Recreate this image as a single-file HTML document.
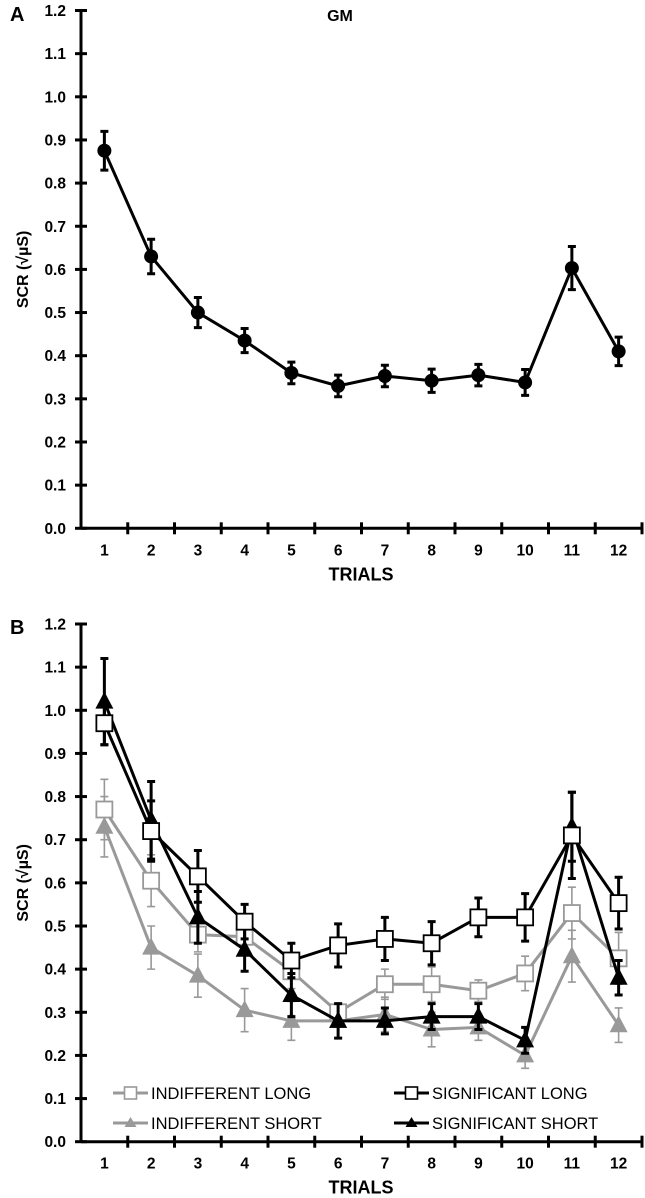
<!DOCTYPE html>
<html><head><meta charset="utf-8"><style>
html,body{margin:0;padding:0;background:#fff;}
svg{display:block;font-family:"Liberation Sans",Arial,sans-serif;}
</style></head><body>
<svg id="fig" width="645" height="1198" viewBox="0 0 645 1198" xmlns="http://www.w3.org/2000/svg"></svg>
<script>
const categories=[1,2,3,4,5,6,7,8,9,10,11,12];
const yTicks=[0,0.1,0.2,0.3,0.4,0.5,0.6,0.7,0.8,0.9,1.0,1.1,1.2];
const gmValues=[0.875,0.63,0.50,0.435,0.36,0.33,0.353,0.342,0.355,0.338,0.603,0.41];
const gmErrors=[0.045,0.04,0.035,0.028,0.025,0.025,0.025,0.027,0.025,0.03,0.05,0.033];
const sigLongValues=[0.97,0.72,0.615,0.51,0.42,0.455,0.47,0.46,0.52,0.52,0.71,0.553];
const sigLongErrors=[0.05,0.07,0.06,0.04,0.04,0.05,0.05,0.05,0.045,0.055,0.10,0.06];
const indLongValues=[0.77,0.605,0.48,0.475,0.395,0.30,0.365,0.365,0.35,0.39,0.53,0.425];
const indLongErrors=[0.07,0.06,0.04,0.04,0.04,0.02,0.035,0.04,0.025,0.04,0.06,0.06];
const sigShortValues=[1.02,0.745,0.52,0.445,0.34,0.28,0.28,0.29,0.29,0.235,0.73,0.38];
const sigShortErrors=[0.10,0.09,0.06,0.05,0.05,0.04,0.03,0.03,0.03,0.03,0.08,0.04];
const indShortValues=[0.73,0.45,0.385,0.305,0.28,0.28,0.295,0.26,0.265,0.20,0.43,0.27];
const indShortErrors=[0.07,0.05,0.05,0.05,0.045,0.04,0.04,0.04,0.03,0.03,0.06,0.04];

const NS="http://www.w3.org/2000/svg";
const svg=document.getElementById('fig');
function el(tag,attrs,parent){const e=document.createElementNS(NS,tag);for(const k in attrs)e.setAttribute(k,attrs[k]);(parent||svg).appendChild(e);return e;}
const X0=81,X1=642,STEP=(X1-X0)/12;
function xs(i){return X0+STEP*(i+0.5);}

function axes(g,yTop,yBot,name){
  const ys=v=>yBot-(yBot-yTop)*v/1.2;
  const ax=el('g',{},g);
  
  
  el('line',{x1:X0,y1:yTop,x2:X0,y2:yBot,stroke:'#000','stroke-width':3},ax);
  el('line',{x1:X0,y1:yBot,x2:X1,y2:yBot,stroke:'#000','stroke-width':3},ax);
  yTicks.forEach(v=>{
    const y=ys(v);
    el('line',{x1:X0-6,y1:y,x2:X0+6,y2:y,stroke:'#000','stroke-width':3},ax);
    const t=el('text',{x:66,y:y+5.5,'text-anchor':'end','font-size':15.5,'font-weight':'bold'},ax);
    t.textContent=v.toFixed(1);
    
    
  });
  for(let i=1;i<=12;i++){
    const x=X0+STEP*i;
    el('line',{x1:x,y1:yBot-6,x2:x,y2:yBot+6,stroke:'#000','stroke-width':3},ax);
  }
  categories.forEach((c,i)=>{
    const t=el('text',{x:xs(i),y:yBot+27,'text-anchor':'middle','font-size':15.5,'font-weight':'bold'},ax);
    t.textContent=c;
    
    
  });
  const xt=el('text',{x:361,y:yBot+52,'text-anchor':'middle','font-size':18,'font-weight':'bold'},ax);
  xt.textContent='TRIALS';
  
  
  const yc=(yTop+yBot)/2;
  const yt=el('text',{x:0,y:0,'text-anchor':'middle','font-size':16,'font-weight':'bold',transform:`translate(28,${yc}) rotate(-90)`},ax);
  yt.textContent='SCR (√µS)';
  
  
  return ys;
}

function marker(g,type,x,y,color){
  if(type==='circle') return el('circle',{cx:x,cy:y,r:7,fill:color},g);
  if(type==='square') return el('rect',{x:x-8,y:y-8,width:16,height:16,fill:'#fff',stroke:color,'stroke-width':1.8},g);
  if(type==='tri') return el('polygon',{points:`${x},${y-10} ${x-9},${y+7} ${x+9},${y+7}`,fill:color},g);
}

function series(name,vals,errs,ys,color,width,type,ebw){
  const g=el('g',{});
  
  
  vals.forEach((v,i)=>{
    const x=xs(i),ya=ys(v+errs[i]),yb=ys(v-errs[i]);
    const eb=el('path',{d:`M${x},${ya}V${yb}M${x-4},${ya}H${x+4}M${x-4},${yb}H${x+4}`,stroke:color,'stroke-width':ebw,fill:'none'},g);
    
    
  });
  const pl=el('polyline',{points:vals.map((v,i)=>xs(i)+','+ys(v)).join(' '),fill:'none',stroke:color,'stroke-width':width},g);
  
  
  vals.forEach((v,i)=>{
    const m=marker(g,type,xs(i),ys(v),color);
    
    
  });
}

// Panel A
const gA=el('g',{});


const ysA=axes(gA,10.5,528.3,'panel-a');
const la=el('text',{x:10,y:21,'font-size':20,'font-weight':'bold'},gA);la.textContent='A';


const gm=el('text',{x:340,y:21,'text-anchor':'middle','font-size':16,'font-weight':'bold'},gA);gm.textContent='GM';


series('gm-series',gmValues,gmErrors,ysA,'#000',3,'circle',3);

// Panel B
const gB=el('g',{});


const ysB=axes(gB,624,1141.7,'panel-b');
const lb=el('text',{x:10,y:634,'font-size':20,'font-weight':'bold'},gB);lb.textContent='B';


const GRAY='#999';
series('indifferent-short',indShortValues,indShortErrors,ysB,GRAY,3,'tri',1.6);
series('indifferent-long',indLongValues,indLongErrors,ysB,GRAY,3,'square',1.6);
series('significant-short',sigShortValues,sigShortErrors,ysB,'#000',3,'tri',3);
series('significant-long',sigLongValues,sigLongErrors,ysB,'#000',3,'square',3);

// Legend
const legend=[
 ['INDIFFERENT LONG',GRAY,'square',113,1093],
 ['INDIFFERENT SHORT',GRAY,'tri',113,1123],
 ['SIGNIFICANT LONG','#000','square',394,1093],
 ['SIGNIFICANT SHORT','#000','tri',394,1123]];
legend.forEach(([lbl,c,t,x,y])=>{
  const g=el('g',{});
  
  
  el('line',{x1:x,y1:y,x2:x+35,y2:y,stroke:c,'stroke-width':3},g);
  if(t==='square') el('rect',{x:x+11.5,y:y-6,width:12,height:12,fill:'#fff',stroke:c,'stroke-width':1.6},g);
  else el('polygon',{points:`${x+17.5},${y-6} ${x+11.5},${y+4} ${x+23.5},${y+4}`,fill:c},g);
  const tx=el('text',{x:x+38,y:y+6,'font-size':16.5},g);tx.textContent=lbl;
});
</script>
</body></html>
